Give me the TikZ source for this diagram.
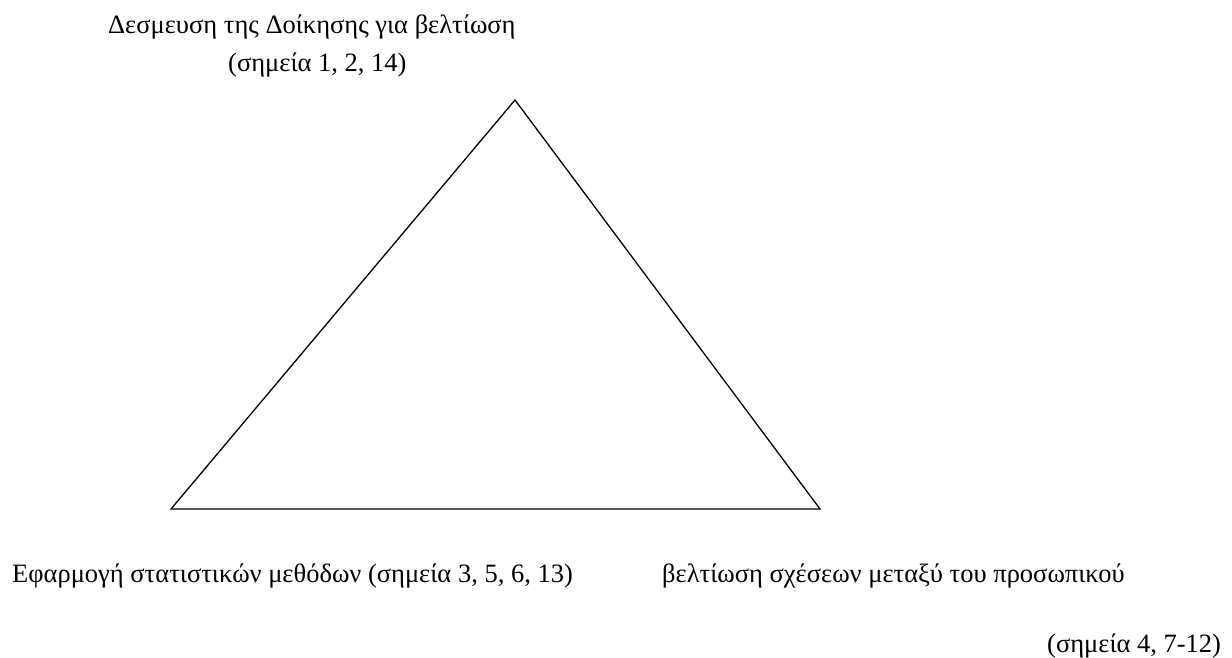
\documentclass[tikz,border=0pt]{standalone}
\usepackage{fontspec}
\setmainfont{Liberation Serif}
\usepackage{tikz}
\usetikzlibrary{positioning}
\tikzset{
    side/.style={line width=1.3pt, draw=black, line join=miter},
    textlabel/.style={font=\fontsize{26.5}{31}\selectfont, text=black, inner sep=0pt, anchor=base west}
}

\begin{document}
\begin{tikzpicture}[x=1pt, y=-1pt]
    \useasboundingbox (0,0) rectangle (1232,657);

    % =========================================================================
    % TRIANGLE
    % =========================================================================
    \coordinate (apex)  at (515,100);
    \coordinate (left)  at (171,509);
    \coordinate (right) at (820,509);
    \draw[side] (apex) -- (right) -- (left) -- cycle;

    % =========================================================================
    % LABELS
    % =========================================================================
    % Top vertex
    \node[textlabel] (topA) at (108,33) {Δεσμευση της Δοίκησης για βελτίωση};
    \node[textlabel] (topB) at (228,71) {(σημεία 1, 2, 14)};

    % Bottom left vertex
    \node[textlabel] (leftA) at (12,582) {Εφαρμογή στατιστικών μεθόδων (σημεία 3, 5, 6, 13)};

    % Bottom right vertex
    \node[textlabel] (rightA) at (662,582) {βελτίωση σχέσεων μεταξύ του προσωπικού};
    \node[textlabel] (rightB) at (1047,652) {(σημεία 4, 7-12)};
\end{tikzpicture}
\end{document}
